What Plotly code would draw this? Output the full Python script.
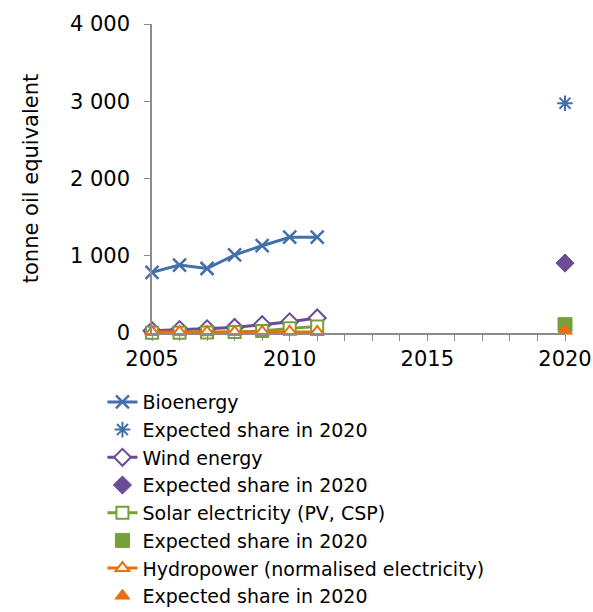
import plotly.graph_objects as go

years = [2005, 2006, 2007, 2008, 2009, 2010, 2011]
target_year = [2020]

bioenergy = [785, 880, 835, 1010, 1130, 1240, 1240]
bioenergy_2020 = [2975]
wind = [30, 44, 55, 72, 108, 145, 195]
wind_2020 = [905]
solar = [3, 4, 6, 12, 25, 60, 85]
solar_2020 = [108]
hydro = [12, 12, 10, 12, 14, 16, 14]
hydro_2020 = [28]

y_ticks = [0, 1000, 2000, 3000, 4000]
x_ticks = [2005, 2010, 2015, 2020]

BLUE = "#4170AA"
PURPLE = "#6A4D96"
GREEN = "#76A03A"
ORANGE = "#E8700E"
FONT = "DejaVu Sans, Verdana, sans-serif"

fig = go.Figure()

def add_series(name, ys, y2020, color, sym, size_line, size_pt):
    fig.add_trace(go.Scatter(
        x=years, y=ys, name=name, mode="lines+markers",
        line=dict(color=color, width=3),
        marker=dict(symbol=sym, size=size_line, color="white",
                    line=dict(color=color, width=2)),
        cliponaxis=False))
    fig.add_trace(go.Scatter(
        x=target_year, y=y2020, name="Expected share in 2020", mode="markers",
        marker=dict(symbol=sym, size=size_pt, color=color,
                    line=dict(color=color, width=1)),
        cliponaxis=False))

fig.add_trace(go.Scatter(
    x=years, y=bioenergy, name="Bioenergy", mode="lines+markers",
    line=dict(color=BLUE, width=3),
    marker=dict(symbol="x-thin", size=13, color=BLUE,
                line=dict(color=BLUE, width=2.5)),
    cliponaxis=False))
fig.add_trace(go.Scatter(
    x=target_year, y=bioenergy_2020, name="Expected share in 2020", mode="markers",
    marker=dict(symbol="asterisk", size=13, color=BLUE,
                line=dict(color=BLUE, width=2)),
    cliponaxis=False))
add_series("Wind energy", wind, wind_2020, PURPLE, "diamond", 13, 14)
add_series("Solar electricity (PV, CSP)", solar, solar_2020, GREEN, "square", 12, 14)
add_series("Hydropower (normalised electricity)", hydro, hydro_2020, ORANGE, "triangle-up", 12, 13)

fig.update_layout(
    width=593, height=612,
    margin=dict(l=152, r=28, t=24, b=279, autoexpand=False),
    paper_bgcolor="white", plot_bgcolor="white",
    font=dict(family=FONT, size=21, color="black"),
    separators=". ",
    showlegend=True,
    legend=dict(x=-0.12, y=-0.162, xanchor="left", yanchor="top",
                font=dict(family=FONT, size=19, color="black"),
                tracegroupgap=0, bgcolor="rgba(0,0,0,0)"),
    xaxis=dict(range=[2005, 2020], tickvals=x_ticks, showgrid=False,
               showline=True, linecolor="#8c8c8c", linewidth=1.5,
               ticks="outside", ticklen=6, tickcolor="#8c8c8c",
               minor=dict(dtick=1, tick0=2005, ticks="outside", ticklen=6,
                          tickcolor="#8c8c8c", showgrid=False),
               zeroline=False, automargin=False),
    yaxis=dict(range=[0, 4000], tickvals=y_ticks, tickformat=",",
               showgrid=False, showline=True, linecolor="#8c8c8c", linewidth=1.5,
               ticks="outside", ticklen=6, tickcolor="#8c8c8c", zeroline=False,
               ticklabelstandoff=10, automargin=False,
               title=dict(text="tonne oil equivalent", font=dict(size=21), standoff=26)),
)

fig.write_html("out.html", config={"displayModeBar": False},
               post_script="document.body.style.margin='0';")
